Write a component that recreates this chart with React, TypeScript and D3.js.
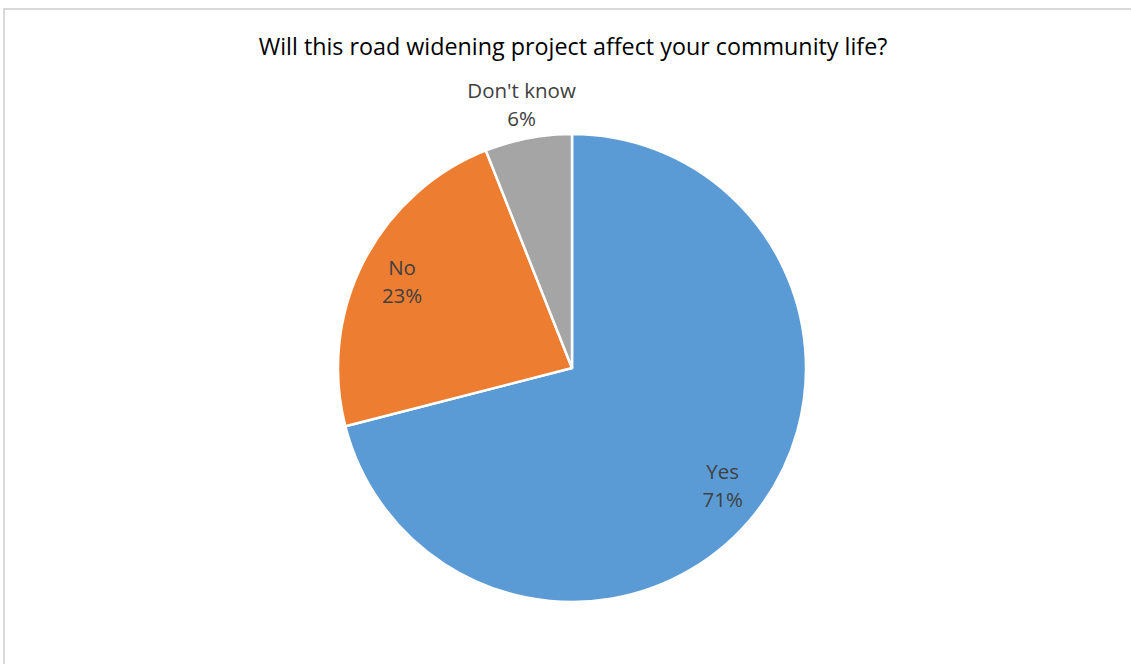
import React from "react";
import * as d3 from "d3";

const categories = ["Yes", "No", "Don't know"];
const values = [71, 23, 6];
const colors = ["#5B9BD5", "#ED7D31", "#A5A5A5"];
const title = "Will this road widening project affect your community life?";

export default function App() {
  const W = 1131, H = 664;
  const cx = 572, cy = 368, r = 234;
  const pie = d3.pie<number>().sort(null).value((d) => d)(values);
  const arc = d3.arc<d3.PieArcDatum<number>>().innerRadius(0).outerRadius(r);
  const total = d3.sum(values);
  const font = "'Open Sans', sans-serif";
  return (
    <svg width={W} height={H} style={{ position: "absolute", left: 0, top: 0, background: "#fff" }}>
      <rect x={4} y={9} width={W + 10} height={H + 10} fill="#fff" stroke="#d9d9d9" strokeWidth={2} />
      <text x={573} y={55} textAnchor="middle" fontFamily={font} fontSize={23.3} fill="#000">{title}</text>
      <g transform={`translate(${cx},${cy})`}>
        {pie.map((p, i) => (
          <path key={i} d={arc(p) || ""} fill={colors[i]} stroke="#fff" strokeWidth={2.5} strokeLinejoin="round" />
        ))}
        {pie.map((p, i) => {
          const frac = values[i] / total;
          const lr = frac < 0.1 ? r * 1.15 : r * 0.815;
          const a = (p.startAngle + p.endAngle) / 2;
          const x = Math.sin(a) * lr;
          const y = -Math.cos(a) * lr;
          return (
            <text key={"l" + i} textAnchor="middle" fontFamily={font} fontSize={20.5} fill="#404040">
              <tspan x={x} y={y - 6}>{categories[i]}</tspan>
              <tspan x={x} y={y + 22}>{Math.round(frac * 100) + "%"}</tspan>
            </text>
          );
        })}
      </g>
    </svg>
  );
}
